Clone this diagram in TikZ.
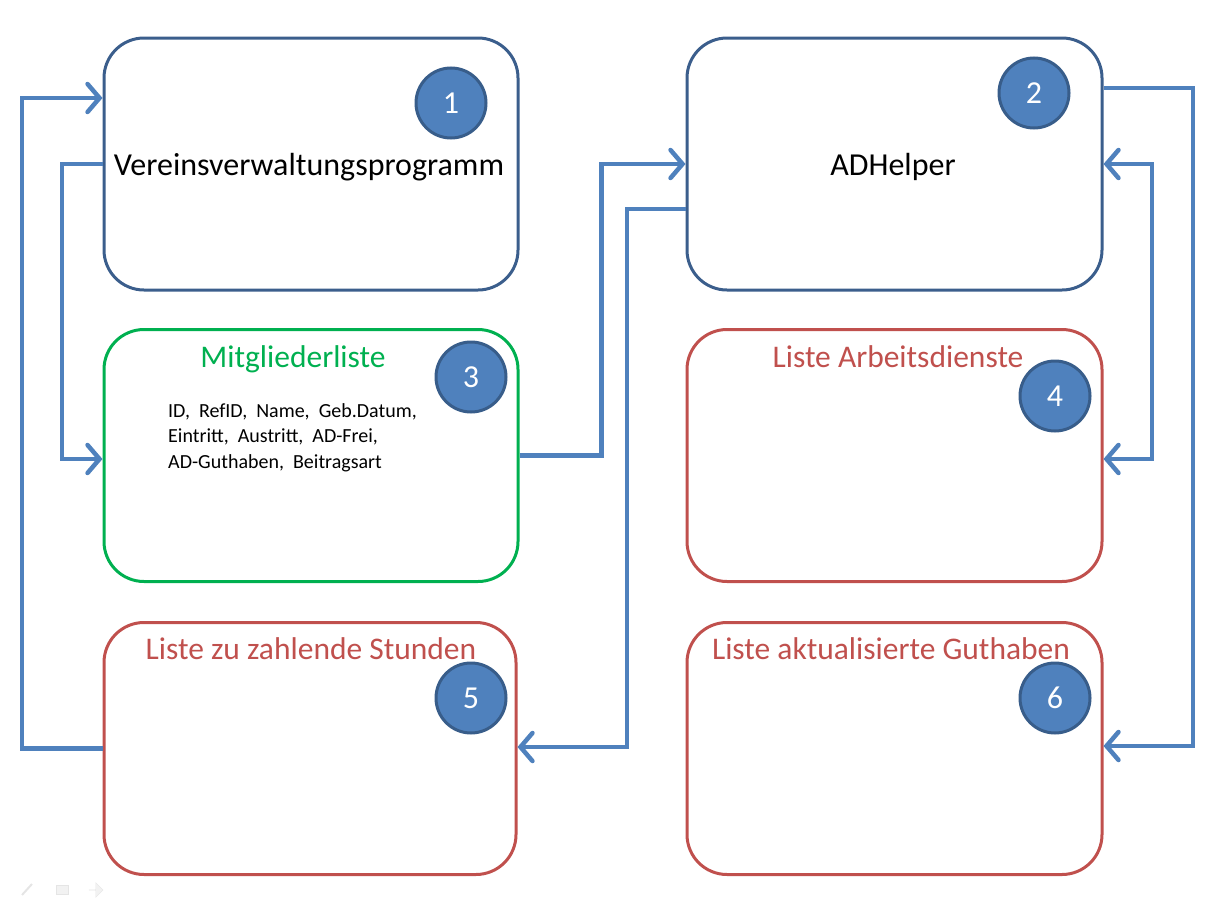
\documentclass[tikz,border=0pt]{standalone}
\usepackage{fontspec}
\setmainfont{Carlito}
\usetikzlibrary{arrows.meta,calc,shapes.arrows}
\definecolor{boxblue}{HTML}{3B5E8C}
\definecolor{boxgreen}{HTML}{00B050}
\definecolor{boxred}{HTML}{C0504D}
\definecolor{linkblue}{HTML}{4F81BD}
\definecolor{circfill}{HTML}{4F81BD}
\definecolor{circline}{HTML}{385D8A}
\tikzset{
  box/.style={draw, line width=3pt, rounded corners=40pt, minimum width=414pt, minimum height=252pt, inner sep=0pt},
  numcirc/.style={circle, fill=circfill, draw=circline, line width=3pt, minimum size=70pt, inner sep=0pt, text=white, font=\fontsize{32}{36}\selectfont},
  bigtitle/.style={font=\fontsize{32}{38}\selectfont},
  subtitle/.style={font=\fontsize{31.5}{36}\selectfont, anchor=base},
  conn/.style={draw=linkblue, line width=4.5pt, line join=miter, -{Straight Barb[length=12pt,width=28pt,line cap=round]}},
  connboth/.style={draw=linkblue, line width=4.5pt, line join=miter, {Straight Barb[length=12pt,width=28pt,line cap=round]}-{Straight Barb[length=12pt,width=28pt,line cap=round]}},
  ctrl/.style={draw=black!10, fill=black!5, inner sep=0pt}
}
\begin{document}
\begin{tikzpicture}[x=1pt,y=-1pt]
\useasboundingbox (0,0) rectangle (1229,902);
% boxes
\node[box, draw=boxblue] (b1) at (311,164) {};
\node[box, draw=boxblue, minimum width=415pt] (b2) at (894.5,164) {};
\node[box, draw=boxgreen] (b3) at (311,455.5) {};
\node[box, draw=boxred, minimum width=415pt] (b4) at (894.5,455.5) {};
\node[box, draw=boxred, minimum width=412pt] (b5) at (310,748.5) {};
\node[box, draw=boxred, minimum width=415pt] (b6) at (894.5,748.5) {};
% titles
\node[subtitle, bigtitle] (t1) at (309,175) {Vereinsverwaltungsprogramm};
\node[subtitle, bigtitle] (t2) at (893,175) {ADHelper};
\node[subtitle, text=boxgreen] (t3) at (293,367) {Mitgliederliste};
\node[subtitle, text=boxred] (t4) at (898,367) {Liste Arbeitsdienste};
\node[subtitle, text=boxred] (t5) at (311,659) {Liste zu zahlende Stunden};
\node[subtitle, text=boxred] (t6) at (891,659) {Liste aktualisierte Guthaben};
\node[anchor=base west, align=left, inner sep=0pt, font=\fontsize{20}{25.5}\selectfont] (fields) at (168,468)
  {ID,\ \ RefID,\ \ Name,\ \ Geb.Datum,\\ Eintritt,\ \ Austritt,\ \ AD-Frei,\\ AD-Guthaben,\ \ Beitragsart};
% number circles
\node[numcirc] (c1) at (451,103) {1};
\node[numcirc] (c2) at (1034,93) {2};
\node[numcirc] (c3) at (471,377) {3};
\node[numcirc] (c4) at (1055,396) {4};
\node[numcirc] (c5) at (471,698) {5};
\node[numcirc] (c6) at (1055,698) {6};
% connectors
\draw[conn] (b5.west) -| (22,98) -- ($(b1.west)+(0,-66)$);
\draw[conn] (b1.west) -| (62,459) -- ($(b3.west)+(0,3.5)$);
\draw[conn] (b3.east) -| ($(b2.west)+(-84,0)$) -- (b2.west);
\draw[conn] ($(b2.west)+(0,45)$) -| (627,747) -- (b5.east |- 0,747);
\draw[conn] ($(b2.east)+(0,-76)$) -| (1193,746) -- (b6.east |- 0,746);
\draw[connboth] (b2.east) -| (1152,459) -- (b4.east |- 0,459);
% faint slideshow controls
\node[ctrl, minimum width=12pt, minimum height=9pt] (ctrl3) at (62,890) {};
\draw[draw=black!10, line width=2pt] (22,895) -- (32,884);
\node[ctrl, single arrow, minimum height=14pt, minimum width=12pt] (ctrl4) at (96,890) {};
\end{tikzpicture}
\end{document}
